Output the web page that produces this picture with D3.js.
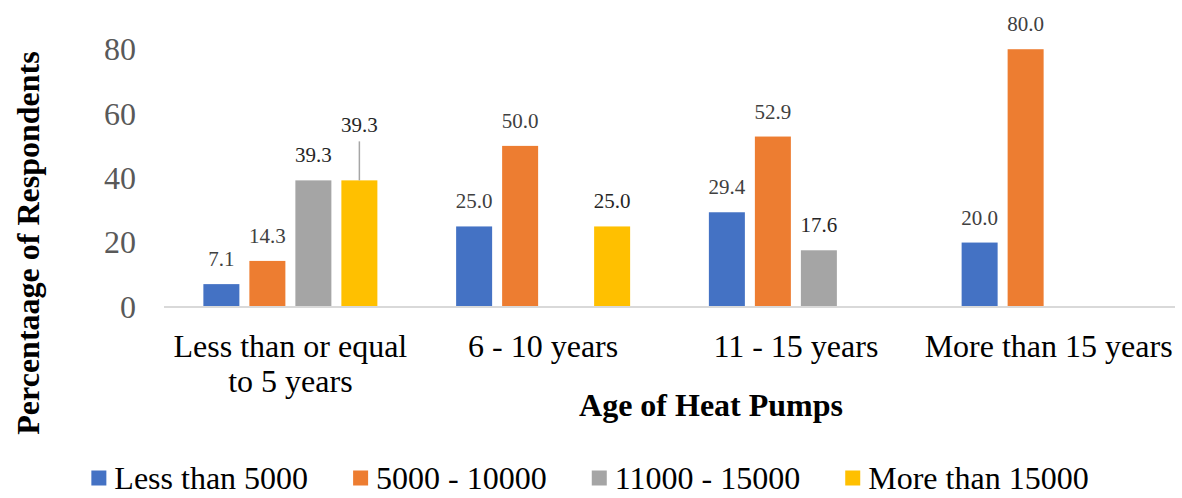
<!DOCTYPE html>
<html>
<head>
<meta charset="utf-8">
<script src="https://cdn.jsdelivr.net/npm/d3@7"></script>
<style>
  body { margin: 0; background: #fff; }
  svg, svg text, svg tspan { font-family: "Liberation Serif", "Times New Roman", serif; }
</style>
</head>
<body>
<div id="chart"></div>
<script>
// chart data
var categories = ["Less than or equal to 5 years", "6 - 10 years", "11 - 15 years", "More than 15 years"];
var seriesNames = ["Less than 5000", "5000 - 10000", "11000 - 15000", "More than 15000"];
var lessThan5000 = [7.1, 25.0, 29.4, 20.0];
var from5000to10000 = [14.3, 50.0, 52.9, 80.0];
var from11000to15000 = [39.3, null, 17.6, null];
var moreThan15000 = [39.3, 25.0, null, null];
var yTicks = [0, 20, 40, 60, 80];

var seriesValues = [lessThan5000, from5000to10000, from11000to15000, moreThan15000];
var colors = ["#4472C4", "#ED7D31", "#A5A5A5", "#FFC000"];
var labelColors = ["#404040", "#404040", "#262626", "#262626"];

var width = 1182, height = 498;
var margin = {top: 17, left: 164, right: 7, bottom: 191};

var svg = d3.select("#chart").append("svg")
    .attr("width", width)
    .attr("height", height)
    .attr("font-family", "'Liberation Serif', 'Times New Roman', serif");

var x = d3.scaleBand()
    .domain(categories)
    .range([margin.left, width - margin.right])
    .paddingInner(0).paddingOuter(0);

// bars inside one group: 36px wide, 46px step
var innerW = 174;
var x1 = d3.scaleBand()
    .domain(seriesNames)
    .range([0, innerW])
    .paddingInner(10 / 46);

var y = d3.scaleLinear()
    .domain([0, 90])
    .range([height - margin.bottom, margin.top]);

// flatten rows
var rows = [];
seriesNames.forEach(function(s, si) {
    categories.forEach(function(c, ci) {
        var v = seriesValues[si][ci];
        if (v !== null) rows.push({series: s, si: si, cat: c, ci: ci, value: v});
    });
});

function barX(d) {
    return x(d.cat) + (x.bandwidth() - innerW) / 2 + x1(d.series);
}

// bars
svg.append("g").selectAll("rect")
    .data(rows)
    .enter().append("rect")
    .attr("x", barX)
    .attr("y", function(d) { return y(d.value); })
    .attr("width", x1.bandwidth())
    .attr("height", function(d) { return y(0) - y(d.value); })
    .attr("fill", function(d) { return colors[d.si]; });

// baseline
svg.append("line")
    .attr("x1", margin.left).attr("x2", width - margin.right)
    .attr("y1", y(0)).attr("y2", y(0))
    .attr("stroke", "#d9d9d9")
    .attr("stroke-width", 2);

// y tick labels
svg.append("g").selectAll("text")
    .data(yTicks)
    .enter().append("text")
    .attr("x", 136)
    .attr("y", function(d) { return y(d); })
    .attr("dy", "0.34em")
    .attr("text-anchor", "end")
    .attr("fill", "#595959")
    .style("font-size", "32px")
    .text(function(d) { return d; });

// data labels (yellow in the first group is pushed up with a leader line)
function lifted(d) { return d.si === 3 && d.ci === 0; }

svg.append("g").selectAll("line")
    .data(rows.filter(lifted))
    .enter().append("line")
    .attr("x1", function(d) { return barX(d) + x1.bandwidth() / 2; })
    .attr("x2", function(d) { return barX(d) + x1.bandwidth() / 2; })
    .attr("y1", function(d) { return y(d.value) - 39; })
    .attr("y2", function(d) { return y(d.value); })
    .attr("stroke", "#a6a6a6")
    .attr("stroke-width", 1.5);

svg.append("g").selectAll("text")
    .data(rows)
    .enter().append("text")
    .attr("x", function(d) { return barX(d) + x1.bandwidth() / 2; })
    .attr("y", function(d) { return y(d.value) - (lifted(d) ? 48 : 18); })
    .attr("text-anchor", "middle")
    .attr("fill", function(d) { return labelColors[d.si]; })
    .style("font-size", "21px")
    .text(function(d) { return d.value.toFixed(1); });

// category labels, wrapped to the band width
var catG = svg.append("g");
categories.forEach(function(c) {
    var cx0 = x(c) + x.bandwidth() / 2;
    var t = catG.append("text")
        .attr("x", cx0)
        .attr("y", 357)
        .attr("text-anchor", "middle")
        .attr("fill", "#000")
        .style("font-size", "32px");
    var words = c.split(" "), line = [];
    var tspan = t.append("tspan").attr("x", cx0).attr("dy", 0);
    words.forEach(function(w) {
        line.push(w);
        tspan.text(line.join(" "));
        if (tspan.node().getComputedTextLength() > x.bandwidth() - 2 && line.length > 1) {
            line.pop();
            tspan.text(line.join(" "));
            line = [w];
            tspan = t.append("tspan").attr("x", cx0).attr("dy", "1.1em").text(w);
        }
    });
});

// axis titles
svg.append("text")
    .attr("x", 711).attr("y", 416)
    .attr("text-anchor", "middle")
    .attr("font-weight", "bold")
    .style("font-size", "32px")
    .text("Age of Heat Pumps");

svg.append("text")
    .attr("transform", "translate(39,243) rotate(-90)")
    .attr("text-anchor", "middle")
    .attr("font-weight", "bold")
    .style("font-size", "32px")
    .text("Percentaage of Respondents");

// legend
var legend = svg.append("g");
var sq = 15, sqGap = 8, itemGap = 45, lx = 0;
seriesNames.forEach(function(s, i) {
    var g = legend.append("g");
    g.append("rect")
        .attr("x", 0).attr("y", -sq / 2)
        .attr("width", sq).attr("height", sq)
        .attr("fill", colors[i]);
    var t = g.append("text")
        .attr("x", sq + sqGap).attr("y", 0)
        .attr("dy", "0.34em")
        .attr("fill", "#000")
        .style("font-size", "32px")
        .text(s);
    var w = sq + sqGap + t.node().getComputedTextLength();
    g.attr("transform", "translate(" + lx + ",0)");
    lx += w + itemGap;
});
var totalW = lx - itemGap;
legend.attr("transform", "translate(" + (590 - totalW / 2) + ",478)");
</script>
</body>
</html>
